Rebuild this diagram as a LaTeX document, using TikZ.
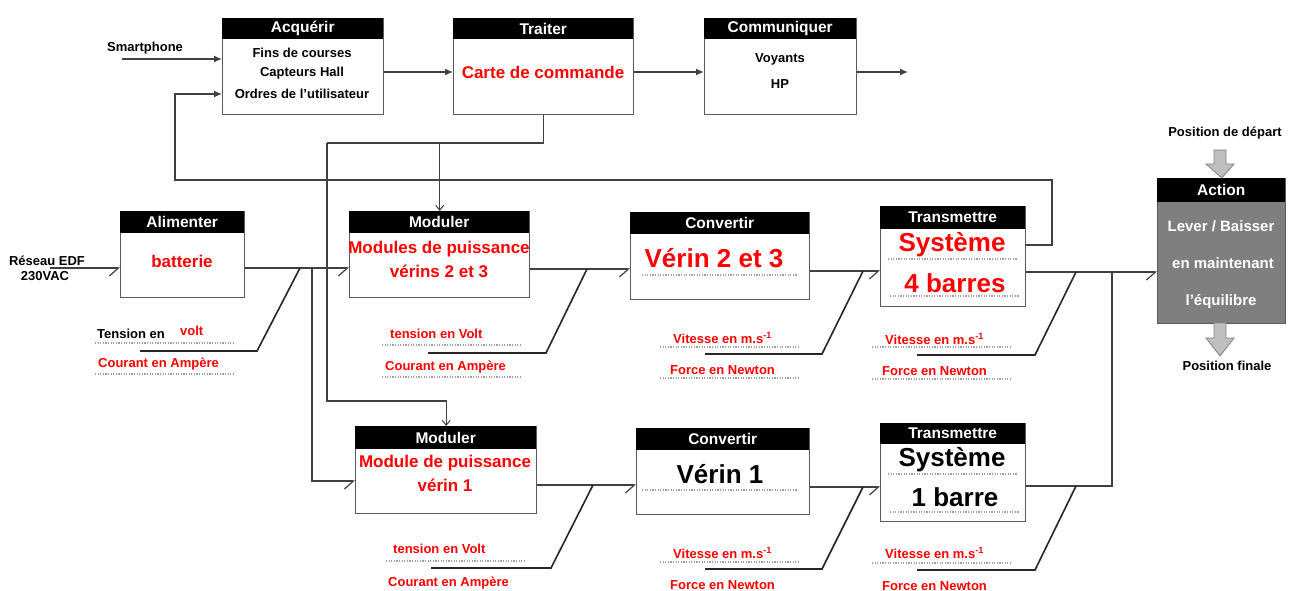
\documentclass[tikz,border=0pt]{standalone}
\usepackage{fontspec}
\setmainfont{Liberation Sans}
\usetikzlibrary{arrows.meta,calc}
\definecolor{ln}{HTML}{404040}
\definecolor{bd}{HTML}{5A5A5A}
\definecolor{rd}{HTML}{FF0000}
\definecolor{actfill}{HTML}{7F7F7F}
\definecolor{blkar}{HTML}{BFBFBF}
\newcommand{\myfs}[1]{\fontsize{#1}{#1}\selectfont\bfseries}
\newcommand{\mkbox}[8][white]{%
  \node[box,fill=#1,minimum width={(#5-#3)*1pt},minimum height={(#6-#4)*1pt}] (#2) at (#3,#4) {};
  \node[head,minimum width={(#5-#3)*1pt},minimum height={(#7-#4)*1pt}] (#2h) at (#3,#4) {#8};}
\begin{document}
\begin{tikzpicture}[x=1pt,y=-1pt,
  box/.style={draw=bd,line width=1.4pt,anchor=north west,inner sep=0pt},
  head/.style={fill=black,text=white,anchor=north west,inner sep=0pt,font=\myfs{15.5}},
  txt/.style={inner sep=0pt,font=\myfs{13}},
  big/.style={inner sep=0pt,font=\myfs{26}},
  mid/.style={inner sep=0pt,font=\myfs{17},text=rd},
  lab/.style={inner sep=0pt,anchor=west,font=\myfs{13},text=rd},
  conn/.style={draw=ln,line width=1.2pt},
  hb/.style={-{Straight Barb[right,length=9pt,width=16pt,line width=1.2pt]}},
  fa/.style={-{Latex[length=8pt,width=7pt]}},
  va/.style={-{Straight Barb[length=5pt,width=8pt,line width=1pt]}},
  ann/.style={draw=black!85,line width=1.6pt},
  dots/.style={draw=gray!75,line width=1.2pt,dash pattern=on 1.2pt off 1.4pt},
  barrow/.style={fill=blkar,draw=gray,line width=0.8pt}]
\fill[white] (0,0) rectangle (1292,591);
\useasboundingbox (0,0) rectangle (1292,591);

% ---------- blocks ----------
\mkbox{acq}{222}{18}{383}{114}{39}{Acquérir}
\mkbox{tra}{453}{18}{633}{114}{39}{Traiter}
\mkbox{com}{704}{18}{856}{114}{39}{Communiquer}
\mkbox{ali}{120}{211}{244}{297}{233}{Alimenter}
\mkbox{modA}{349}{211}{529}{297}{233}{Moduler}
\mkbox{convA}{630}{212}{809}{299}{234}{Convertir}
\mkbox{trA}{880}{206}{1025}{306}{229}{Transmettre}
\mkbox[actfill]{act}{1157}{178}{1285}{323}{202}{Action}
\mkbox{modB}{355}{426}{536}{513}{449}{Moduler}
\mkbox{convB}{636}{428}{809}{514}{450}{Convertir}
\mkbox{trB}{880}{423}{1025}{521}{444}{Transmettre}

% ---------- block texts ----------
\node[txt] (acq1) at (302,53) {Fins de courses};
\node[txt] (acq2) at (302,73) {Capteurs Hall};
\node[txt] (acq3) at (302,94) {Ordres de l'utilisateur};
\node[mid] (tra1) at (543,72) {Carte de commande};
\node[txt] (com1) at (780,59) {Voyants};
\node[txt] (com2) at (780,84) {HP};
\node[mid] (ali1) at (182,261) {batterie};
\node[mid] (modA1) at (439,249) {Modules de puissance};
\node[mid] (modA2) at (439,271) {vérins 2 et 3};
\node[big,text=rd] (convA1) at (714,258) {Vérin 2 et 3};
\draw[dots] (642,275) -- (797,275);
\node[big,text=rd] (trA1) at (952,245) {Système};
\draw[dots] (888,259) -- (1018,259);
\node[big,text=rd] (trA2) at (955,283) {4 barres};
\draw[dots] (890,296) -- (1020,296);
\node[inner sep=0pt,font=\myfs{15},text=white] (act1) at (1221,226) {Lever / Baisser};
\node[inner sep=0pt,font=\myfs{15},text=white] (act2) at (1223,263) {en maintenant};
\node[inner sep=0pt,font=\myfs{15},text=white] (act3) at (1221,302) {l'équilibre};
\node[mid] (modB1) at (445,463) {Module de puissance};
\node[mid] (modB2) at (445,485) {vérin 1};
\node[big] (convB1) at (720,474) {Vérin 1};
\draw[dots] (642,490) -- (797,490);
\node[big] (trB1) at (952,460) {Système};
\draw[dots] (888,474) -- (1018,474);
\node[big] (trB2) at (955,497) {1 barre};
\draw[dots] (890,512) -- (1020,512);

% ---------- free texts ----------
\node[txt] (smart) at (145,48) {Smartphone};
\node[txt] (rez1) at (47,261) {Réseau EDF};
\node[txt] (rez2) at (45,276) {230VAC};
\node[txt] (pdep) at (1225,133) {Position de départ};
\node[txt] (pfin) at (1227,366) {Position finale};

% ---------- top row connectors ----------
\coordinate (sm0) at (122,59);
\draw[conn,fa] (sm0) -- (acq.west |- sm0);
\coordinate (t72) at (0,72);
\draw[conn,fa] (acq.east |- t72) -- (tra.west |- t72);
\draw[conn,fa] (tra.east |- t72) -- (com.west |- t72);
\coordinate (outc) at (908,72);
\draw[conn,fa] (com.east |- outc) -- (outc);

% feedback
\coordinate (fb0) at (1025,245);
\coordinate (fb1) at (1052,180);
\coordinate (fb2) at (175,94);
\draw[conn,fa] (fb0) -| (fb1) -| (fb2) -- (acq.west |- fb2);

% traiter down
\coordinate (j1) at (543,143);
\coordinate (j2) at (327,143);
\coordinate (j3) at (327,401);
\draw[conn] (tra.south) |- (j2);
\draw[conn,va] (modA.north |- j1) -- (modA.north);
\draw[conn,va] (j2) -- (j3) -| (modB.north);

% power chain row A
\coordinate (rz) at (50,268);
\draw[conn,hb] (rz) -- (ali.west |- rz);
\coordinate (b1) at (312,268);
\draw[conn,hb] (ali.east |- b1) -- (modA.west |- b1);
\coordinate (m2in) at (355,481);
\draw[conn,hb] (b1) |- (m2in);
\coordinate (yA1) at (0,269);
\draw[conn,hb] (modA.east |- yA1) -- (convA.west |- yA1);
\coordinate (yA2) at (0,271);
\draw[conn,hb] (convA.east |- yA2) -- (trA.west |- yA2);
\coordinate (yA3) at (0,272);
\draw[conn,hb] (trA.east |- yA3) -- (act.west |- yA3);

% row B
\coordinate (yB1) at (0,485);
\draw[conn,hb] (modB.east |- yB1) -- (convB.west |- yB1);
\coordinate (yB2) at (0,487);
\draw[conn,hb] (convB.east |- yB2) -- (trB.west |- yB2);
\coordinate (mg) at (1112,272);
\coordinate (yB3) at (0,486);
\draw[conn] (trB.east |- yB3) -| (mg);

% ---------- annotation lines ----------
\draw[ann] (300,268) -- (257,351) -- (140,351);
\draw[ann] (587,269) -- (546,353) -- (428,353);
\draw[ann] (863,271) -- (822,354) -- (705,354);
\draw[ann] (1076,272) -- (1035,355) -- (917,355);
\draw[ann] (593,485) -- (551,568) -- (431,568);
\draw[ann] (863,487) -- (822,569) -- (705,569);
\draw[ann] (1076,486) -- (1035,570) -- (917,570);

% ---------- annotation labels ----------
\node[lab,text=black] (l1) at (97,334) {Tension en};
\node[lab] (l1b) at (180,331) {volt};
\draw[dots] (95,343) -- (233,343);
\node[lab] (l2) at (98,364) {Courant en Ampère};
\draw[dots] (95,374) -- (233,374);

\node[lab] (l3) at (390,334) {tension en Volt};
\draw[dots] (382,345) -- (522,345);
\node[lab] (l4) at (385,367) {Courant en Ampère};
\draw[dots] (382,377) -- (522,377);

\node[lab] (l5) at (673,338) {Vitesse en m.s\textsuperscript{-1}};
\draw[dots] (660,347) -- (799,347);
\node[lab] (l6) at (670,370) {Force en Newton};
\draw[dots] (660,378) -- (799,378);

\node[lab] (l7) at (885,339) {Vitesse en m.s\textsuperscript{-1}};
\draw[dots] (872,347) -- (1010,347);
\node[lab] (l8) at (882,371) {Force en Newton};
\draw[dots] (872,379) -- (1010,379);

\node[lab] (l9) at (393,549) {tension en Volt};
\draw[dots] (386,561) -- (525,561);
\node[lab] (l10) at (388,583) {Courant en Ampère};

\node[lab] (l11) at (673,553) {Vitesse en m.s\textsuperscript{-1}};
\draw[dots] (660,562) -- (799,562);
\node[lab] (l12) at (670,585) {Force en Newton};

\node[lab] (l13) at (885,553) {Vitesse en m.s\textsuperscript{-1}};
\draw[dots] (872,563) -- (1010,563);
\node[lab] (l14) at (882,586) {Force en Newton};

% ---------- block arrows ----------
\draw[barrow] (1214,150) -- (1226,150) -- (1226,164) -- (1234,164) -- (act.north) -- (1206,164) -- (1214,164) -- cycle;
\draw[barrow] (1214,323) -- (1226,323) -- (1226,338) -- (1234,338) -- (1220,356) -- (1206,338) -- (1214,338) -- cycle;
\end{tikzpicture}
\end{document}
